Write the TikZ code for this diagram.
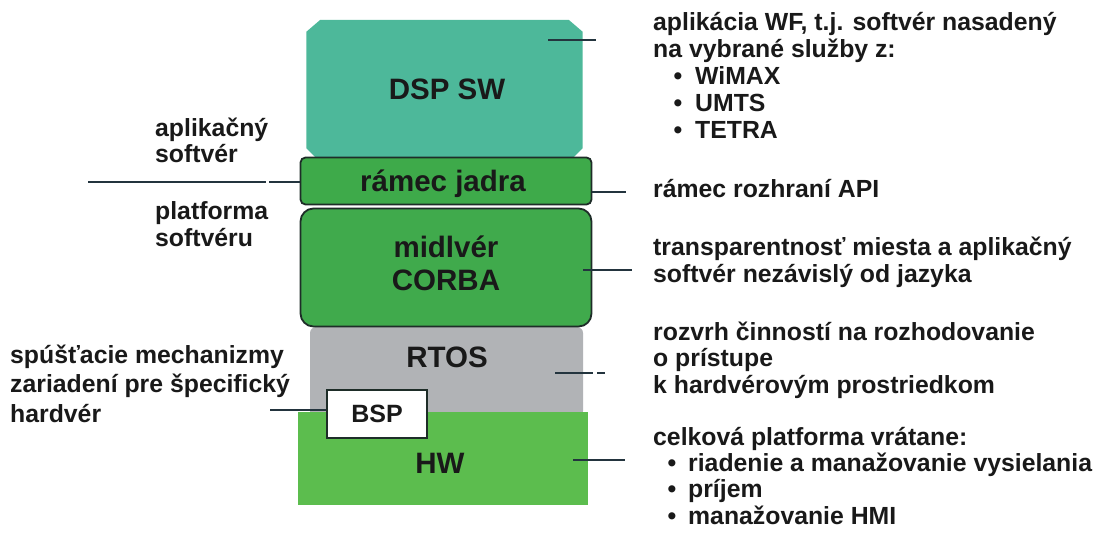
\documentclass[tikz,border=0pt]{standalone}
\usepackage{fontspec}
\setmainfont{Liberation Sans}
\definecolor{tealc}{RGB}{77,184,154}
\definecolor{greenk}{RGB}{62,170,74}
\definecolor{greenm}{RGB}{64,170,76}
\definecolor{grayr}{RGB}{177,179,182}
\definecolor{greenh}{RGB}{92,189,78}
\definecolor{darkb}{RGB}{30,45,40}
\definecolor{linec}{RGB}{35,52,62}
\definecolor{txt}{RGB}{25,25,25}
\newcommand{\mylines}[1]{\begin{tabular}[t]{@{}l@{}}#1\end{tabular}}
\newcommand{\bulA}{\hspace*{42pt}\llap{•\hspace{13pt}}}
\newcommand{\bulB}{\hspace*{35pt}\llap{•\hspace{12pt}}}
\tikzset{
  box/.style={inner sep=0pt},
  layertext/.style={inner sep=0pt, anchor=base, font=\fontsize{29.5}{33}\selectfont\bfseries, text=txt},
  conn/.style={draw=linec, line width=1.8pt},
  lab/.style={inner sep=0pt, anchor=base west, align=left, font=\fontsize{24.8}{27}\selectfont\bfseries, text=txt},
}
\begin{document}
\begin{tikzpicture}[x=1pt,y=-1pt]
\useasboundingbox (0,0) rectangle (1099,537);
% layers
\node[box, minimum width=276pt, minimum height=137pt] (dsp) at (444.5,88.5) {};
\fill[tealc] ([yshift=-12pt]dsp.north west) -- ([xshift=14pt]dsp.north west) -- ([xshift=-14pt]dsp.north east) -- ([yshift=-12pt]dsp.north east)
  -- ([yshift=9pt]dsp.south east) -- ([xshift=-9pt]dsp.south east) -- ([xshift=9pt]dsp.south west) -- ([yshift=9pt]dsp.south west) -- cycle;
\node[layertext] (tdsp) at (447,100) {DSP SW};
\node[box, fill=grayr, rounded corners=6pt, minimum width=273pt, minimum height=90pt] (rtos) at (446.5,372) {};
\node[layertext] (trtos) at (447,367) {RTOS};
\node[box, fill=greenh, minimum width=290pt, minimum height=93pt] (hw) at (443,458.5) {};
\node[layertext] (thw) at (440,473) {HW};
\node[box, fill=greenk, draw=darkb, line width=1.8pt, rounded corners=5pt, minimum width=291pt, minimum height=47pt] (jadra) at (446,181) {};
\node[layertext] (tjadra) at (443,192) {rámec jadra};
\node[box, fill=greenm, draw=darkb, line width=1.8pt, rounded corners=13pt, minimum width=291pt, minimum height=118pt] (midl) at (446,267.5) {};
\node[layertext, align=center] (tmidl) at (446,290) {midlvér\\[0pt]CORBA};
\node[box, fill=white, draw=darkb, line width=1.8pt, minimum width=100pt, minimum height=48pt] (bsp) at (377,414) {};
\node[layertext, font=\fontsize{25}{30}\selectfont\bfseries] (tbsp) at (377,422) {BSP};
% left labels
\node[lab] (la1) at (155,137) {\fontsize{24.8}{26}\selectfont\mylines{aplikačný\\softvér}};
\node[lab] (la2) at (155,220) {\mylines{platforma\\softvéru}};
\node[lab] (la3) at (10,363) {\fontsize{24.8}{29.5}\selectfont\mylines{spúšťacie mechanizmy\\zariadení pre špecifický\\hardvér}};
% right labels
\node[lab] (r1) at (653,31) {\fontsize{24.8}{26.8}\selectfont\mylines{aplikácia WF, t.j. softvér nasadený\\na vybrané služby z:\\\bulA WiMAX\\\bulA UMTS\\\bulA TETRA}};
\node[lab] (r2) at (653,198) {rámec rozhraní API};
\node[lab] (r3) at (653,255) {\mylines{transparentnosť miesta a aplikačný\\softvér nezávislý od jazyka}};
\node[lab] (r4) at (653,340) {\fontsize{24.8}{26.5}\selectfont\mylines{rozvrh činností na rozhodovanie\\o prístupe\\k hardvérovým prostriedkom}};
\node[lab] (r5) at (653,445) {\fontsize{24.8}{26.3}\selectfont\mylines{celková platforma vrátane:\\\bulB riadenie a manažovanie vysielania\\\bulB príjem\\\bulB manažovanie HMI}};
% connectors
\coordinate (c1a) at (548,40); \coordinate (c1b) at (596,40);
\draw[conn] (c1a) -- (c1b);
\coordinate (c2b) at (626,192);
\draw[conn] (jadra.east |- c2b) -- (c2b);
\coordinate (c3a) at (88,182); \coordinate (c3g1) at (266,182); \coordinate (c3g2) at (269,182);
\draw[conn] (c3a) -- (c3g1);
\draw[conn] (c3g2) -- (jadra.west |- c3g2);
\coordinate (c4a) at (583,270); \coordinate (c4b) at (632,270);
\draw[conn] (c4a) -- (c4b);
\coordinate (c5a) at (555,373); \coordinate (c5b) at (593,373); \coordinate (c5c) at (597,373); \coordinate (c5d) at (605,373);
\draw[conn] (c5a) -- (c5b);
\draw[conn] (c5c) -- (c5d);
\coordinate (c6a) at (573,460); \coordinate (c6b) at (625,460);
\draw[conn, line width=2.4pt] (c6a) -- (c6b);
\coordinate (c7a) at (270,410);
\draw[conn] (c7a) -- (bsp.west |- c7a);
\end{tikzpicture}
\end{document}
